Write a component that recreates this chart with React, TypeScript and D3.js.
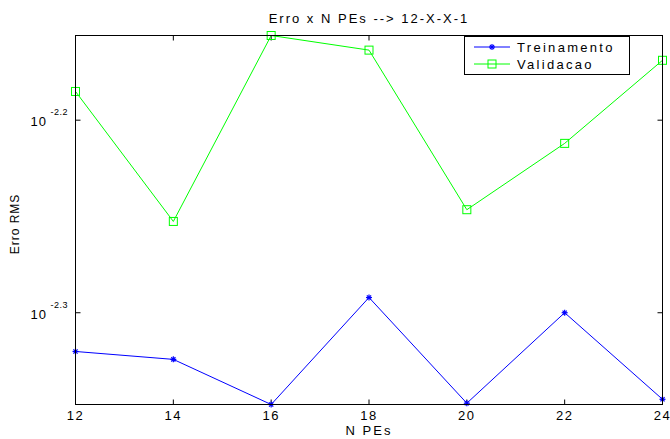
import React from "react";
import * as d3 from "d3";

const npes = [12, 14, 16, 18, 20, 22, 24];
const treinamento = [0.004785, 0.00474, 0.004491, 0.005104, 0.004498, 0.005012, 0.004519];
const validacao = [0.00653, 0.00559, 0.006982, 0.006861, 0.005669, 0.006137, 0.006778];
const xTicks = [12, 14, 16, 18, 20, 22, 24];
const yTickExps = [-2.2, -2.3];
const seriesNames = ["Treinamento", "Validacao"];

const W = 670, H = 439;
const M = { left: 75.5, right: 662.5, top: 35.5, bottom: 404.5 };
const FONT = "'Liberation Sans', Arial, sans-serif";

function Star({ x, y, color }: { x: number; y: number; color: string }) {
  const r = 3;
  return (
    <g stroke={color} strokeWidth={1.2}>
      <line x1={x - r} y1={y} x2={x + r} y2={y} />
      <line x1={x} y1={y - r} x2={x} y2={y + r} />
      <line x1={x - r * 0.7} y1={y - r * 0.7} x2={x + r * 0.7} y2={y + r * 0.7} />
      <line x1={x - r * 0.7} y1={y + r * 0.7} x2={x + r * 0.7} y2={y - r * 0.7} />
    </g>
  );
}

function Square({ x, y, color }: { x: number; y: number; color: string }) {
  const s = 8;
  return <rect x={x - s / 2} y={y - s / 2} width={s} height={s} fill="none" stroke={color} strokeWidth={1} />;
}

export default function App() {
  const all = [...treinamento, ...validacao];
  const ext = d3.extent(all) as [number, number];
  const x = d3.scaleLinear().domain([12, 24]).range([M.left, M.right]);
  const y = d3.scaleLog().domain(ext).range([M.bottom, M.top]);
  const line = d3.line<number>().x((_, i) => x(npes[i])).y((d) => y(d));
  const blue = "#0000ff";
  const green = "#00ff00";
  const tl = 5;
  return (
    <svg width={W} height={H} style={{ position: "absolute", left: 0, top: 0, fontFamily: FONT }}>
      <rect x={0} y={0} width={W} height={H} fill="#fff" />
      {/* ticks */}
      {xTicks.map((t) => (
        <g key={t}>
          <line x1={x(t)} x2={x(t)} y1={M.bottom} y2={M.bottom - tl} stroke="#000" />
          <line x1={x(t)} x2={x(t)} y1={M.top} y2={M.top + tl} stroke="#000" />
          <text x={x(t)} y={M.bottom + 15} textAnchor="middle" fontSize={13} letterSpacing={1.5}>{t}</text>
        </g>
      ))}
      {yTickExps.map((e) => {
        const yy = y(Math.pow(10, e));
        return (
          <g key={e}>
            <line x1={M.left} x2={M.left + tl} y1={yy} y2={yy} stroke="#000" />
            <line x1={M.right} x2={M.right - tl} y1={yy} y2={yy} stroke="#000" />
            <text x={M.left - 45} y={yy + 6} fontSize={13} letterSpacing={1}>10</text>
            <text x={M.left - 25} y={yy - 5} fontSize={9} letterSpacing={0.5}>{String(e)}</text>
          </g>
        );
      })}
      {/* series */}
      <path d={line(validacao) || ""} fill="none" stroke={green} strokeWidth={1} />
      {validacao.map((v, i) => <Square key={i} x={x(npes[i])} y={y(v)} color={green} />)}
      <path d={line(treinamento) || ""} fill="none" stroke={blue} strokeWidth={1} />
      {treinamento.map((v, i) => <Star key={i} x={x(npes[i])} y={y(v)} color={blue} />)}
      {/* frame */}
      <rect x={M.left} y={M.top} width={M.right - M.left} height={M.bottom - M.top} fill="none" stroke="#000" strokeWidth={1} />
      {/* title & labels */}
      <text x={(M.left + M.right) / 2} y={23} textAnchor="middle" fontSize={13} letterSpacing={2}>Erro x N PEs --&gt; 12-X-X-1</text>
      <text x={(M.left + M.right) / 2} y={435} textAnchor="middle" fontSize={13} letterSpacing={2}>N PEs</text>
      <text transform={`translate(19,${(M.top + M.bottom) / 2 + 4}) rotate(-90)`} textAnchor="middle" fontSize={12} letterSpacing={1}>Erro RMS</text>
      {/* legend */}
      <g>
        <rect x={464.5} y={36.5} width={165} height={38} fill="#fff" stroke="#000" />
        {seriesNames.map((n, i) => {
          const ly = 47 + i * 17;
          const c = i === 0 ? blue : green;
          return (
            <g key={n}>
              <line x1={474} x2={510} y1={ly} y2={ly} stroke={c} />
              {i === 0 ? <Star x={492} y={ly} color={c} /> : <Square x={492} y={ly} color={c} />}
              <text x={517} y={ly + 5} fontSize={13} letterSpacing={2.3}>{n}</text>
            </g>
          );
        })}
      </g>
    </svg>
  );
}
